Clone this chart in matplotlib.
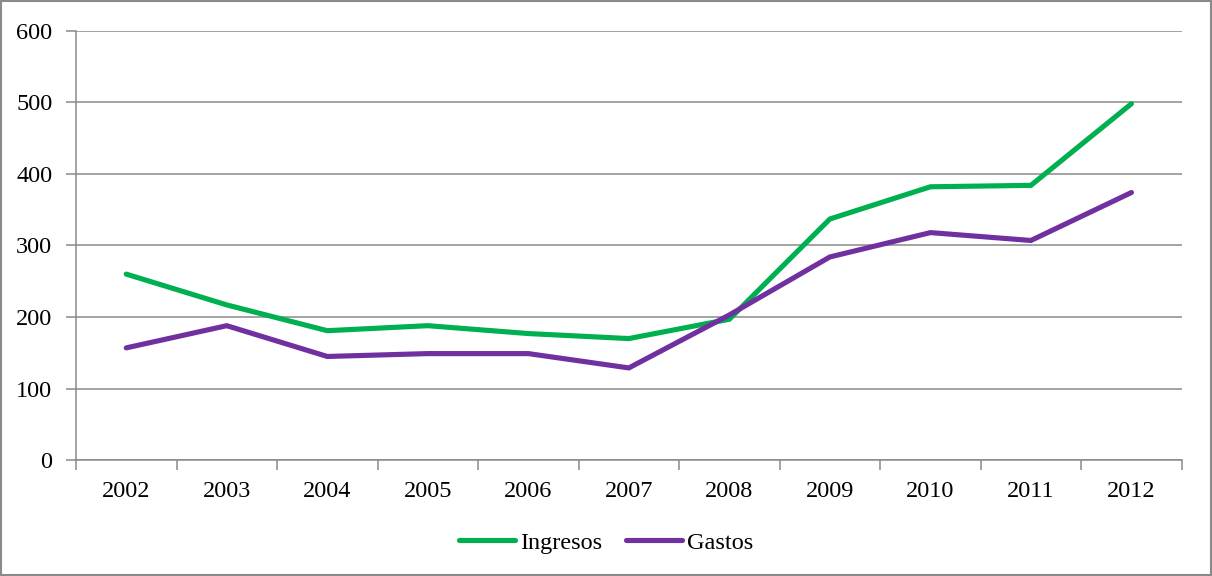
import matplotlib
matplotlib.use("Agg")
import matplotlib.pyplot as plt
from matplotlib.patches import Rectangle

years = ["2002", "2003", "2004", "2005", "2006", "2007", "2008", "2009", "2010", "2011", "2012"]
ingresos = [260, 217, 181, 188, 177, 170, 197, 337, 382, 384, 498]
gastos = [157, 188, 145, 149, 149, 129, 203, 284, 318, 307, 374]

plt.rcParams["font.family"] = ["Liberation Serif", "DejaVu Serif"]
FS = 17.5

fig = plt.figure(figsize=(12.12, 5.76), dpi=100)
ax = fig.add_axes([0.0627, 0.2009, 0.9123, 0.7458])

xs = [i + 0.5 for i in range(len(years))]
ax.plot(xs, ingresos, color="#00B050", lw=3.7, solid_capstyle="round",
        solid_joinstyle="miter", label="Ingresos", zorder=3)
ax.plot(xs, gastos, color="#7030A0", lw=3.7, solid_capstyle="round",
        solid_joinstyle="miter", label="Gastos", zorder=3)

ax.set_xlim(0, len(years))
ax.set_ylim(0, 600)
ax.set_yticks(range(0, 601, 100))
ax.grid(axis="y", color="#8a8a8a", lw=1.1, zorder=0)
ax.set_axisbelow(True)

# category labels centred, tick marks on category boundaries
ax.set_xticks(range(0, len(years) + 1))
ax.set_xticklabels([])
ax.set_xticks(xs, minor=True)
ax.set_xticklabels(years, minor=True)
ax.tick_params(axis="x", which="major", length=7, width=1.1, color="#8a8a8a", direction="out")
ax.tick_params(axis="x", which="minor", length=0, pad=15, labelsize=FS)
ax.tick_params(axis="y", length=7, width=1.1, color="#8a8a8a", direction="out", pad=10, labelsize=FS)

for side in ("top", "right"):
    ax.spines[side].set_visible(False)
for side in ("left", "bottom"):
    ax.spines[side].set_color("#8a8a8a")
    ax.spines[side].set_linewidth(1.1)

leg = fig.legend(loc="center", bbox_to_anchor=(0.5, 0.058), ncol=2, frameon=False,
                 fontsize=FS, handlelength=2.3, handletextpad=0.2, columnspacing=1.0)

fig.patches.append(Rectangle((0.001, 0.001), 0.998, 0.998, transform=fig.transFigure,
                             fill=False, edgecolor="#8a8a8a", lw=1.5))

fig.savefig("out.png", dpi=100, facecolor="white")
